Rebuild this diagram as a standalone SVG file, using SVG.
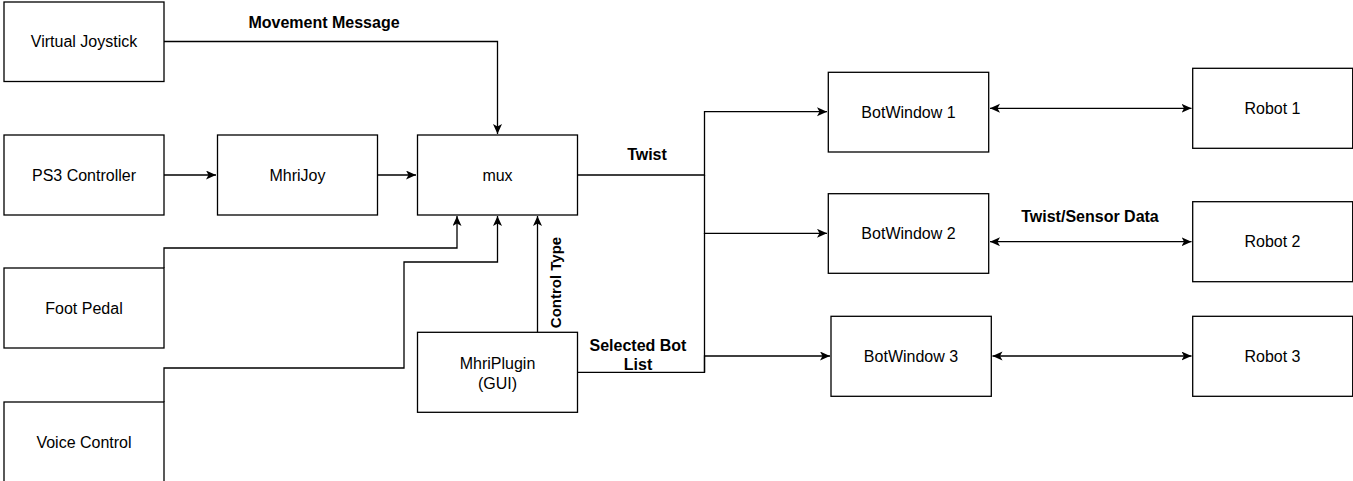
<svg xmlns="http://www.w3.org/2000/svg" width="1353" height="481" viewBox="0 0 1353 481">
<style>
.box{fill:#fff;stroke:#000;stroke-width:1.3}
.t{font-family:"Liberation Sans",Arial,sans-serif;font-size:16px;fill:#000;text-anchor:middle}
.b{font-family:"Liberation Sans",Arial,sans-serif;font-size:16px;font-weight:bold;fill:#000;text-anchor:middle}
.e{fill:none;stroke:#000;stroke-width:1.3}
</style>
<defs>
<marker id="arr" markerUnits="userSpaceOnUse" markerWidth="12" markerHeight="10" refX="10" refY="4.5" orient="auto-start-reverse" viewBox="0 0 12 10">
<path d="M0,0 L10,4.5 L0,9 L2.5,4.5 z" fill="#000"/>
</marker>
</defs>
<rect width="1353" height="481" fill="#fff"/>
<g id="connectors">
<path class="e" d="M164,41.5 H497.5 V134" marker-end="url(#arr)"/>
<path class="e" d="M164,175 H216" marker-end="url(#arr)"/>
<path class="e" d="M378,175 H416" marker-end="url(#arr)"/>
<path class="e" d="M164,268 V248 H457 V216" marker-end="url(#arr)"/>
<path class="e" d="M164,402 V368 H404 V262 H497.5 V216" marker-end="url(#arr)"/>
<path class="e" d="M537.5,332 V216" marker-end="url(#arr)"/>
<path class="e" d="M577.5,175 H704.5 V111.7 H827" marker-end="url(#arr)"/>
<path class="e" d="M704.5,175 V233.3 H827" marker-end="url(#arr)"/>
<path class="e" d="M704.5,233 V372.3"/>
<path class="e" d="M577.5,372.3 H704.5 V356 H830" marker-end="url(#arr)"/>
<path class="e" d="M990,108.3 H1191.5" marker-start="url(#arr)" marker-end="url(#arr)"/>
<path class="e" d="M990,241.7 H1191.5" marker-start="url(#arr)" marker-end="url(#arr)"/>
<path class="e" d="M992.5,356 H1191.5" marker-start="url(#arr)" marker-end="url(#arr)"/>
<text class="b" x="324" y="27.5">Movement Message</text>
<text class="b" x="647" y="159.5">Twist</text>
<text class="b" x="638" y="350.5">Selected Bot</text>
<text class="b" x="638" y="369.5">List</text>
<text class="b" x="1090" y="221.5" >Twist/Sensor Data</text>
<text class="b" style="font-size:15px" x="0" y="0" transform="translate(560.5,282.5) rotate(-90)">Control Type</text>
</g>
<g id="virtual-joystick"><rect class="box" x="4" y="2" width="160" height="79.5"/><text class="t" x="84" y="47">Virtual Joystick</text></g>
<g id="ps3-controller"><rect class="box" x="4" y="135" width="160" height="80"/><text class="t" x="84" y="180.5">PS3 Controller</text></g>
<g id="mhrijoy"><rect class="box" x="217.5" y="135" width="160" height="80"/><text class="t" x="297.5" y="180.5">MhriJoy</text></g>
<g id="mux"><rect class="box" x="417.5" y="135" width="160" height="80"/><text class="t" x="497.5" y="180.5">mux</text></g>
<g id="foot-pedal"><rect class="box" x="4" y="268" width="160" height="80"/><text class="t" x="84" y="313.5">Foot Pedal</text></g>
<g id="voice-control"><rect class="box" x="4" y="402" width="160" height="85"/><text class="t" x="84" y="447.5">Voice Control</text></g>
<g id="mhriplugin"><rect class="box" x="417.5" y="332.3" width="160" height="80"/><text class="t" x="497.5" y="369">MhriPlugin</text><text class="t" x="497.5" y="389">(GUI)</text></g>
<g id="botwindow-1"><rect class="box" x="828.3" y="72.3" width="160.4" height="79.7"/><text class="t" x="908.5" y="117.5">BotWindow 1</text></g>
<g id="botwindow-2"><rect class="box" x="828.3" y="193.7" width="160.4" height="79.6"/><text class="t" x="908.5" y="239">BotWindow 2</text></g>
<g id="botwindow-3"><rect class="box" x="831" y="316.3" width="160.3" height="80"/><text class="t" x="911" y="361.5">BotWindow 3</text></g>
<g id="robot-1"><rect class="box" x="1192.7" y="68.3" width="160" height="80"/><text class="t" x="1272.5" y="113.5">Robot 1</text></g>
<g id="robot-2"><rect class="box" x="1192.7" y="201.7" width="160" height="80"/><text class="t" x="1272.5" y="247">Robot 2</text></g>
<g id="robot-3"><rect class="box" x="1192.7" y="316.3" width="160" height="80"/><text class="t" x="1272.5" y="361.5">Robot 3</text></g>
</svg>
